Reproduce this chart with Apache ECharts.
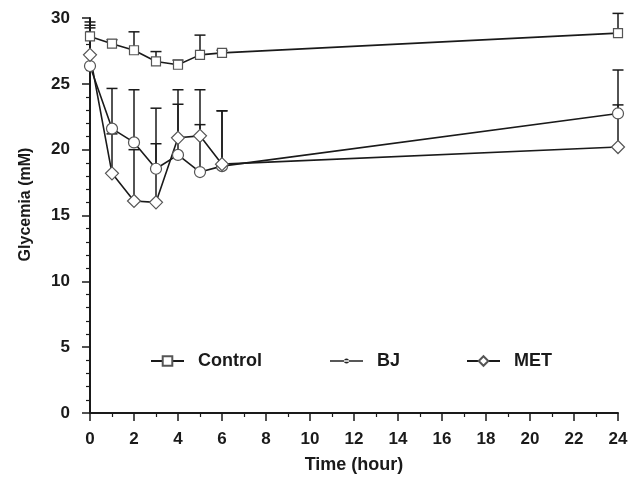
<!DOCTYPE html>
<html>
<head>
<meta charset="utf-8">
<script src="https://cdn.jsdelivr.net/npm/echarts@6/dist/echarts.min.js"></script>
<style>
html,body{margin:0;padding:0;background:#fff;}
#chart{width:644px;height:484px;}
</style>
</head>
<body>
<div id="chart"></div>
<script>
var time = [0, 1, 2, 3, 4, 5, 6, 24];
var control = [28.6, 28.05, 27.55, 26.7, 26.45, 27.2, 27.35, 28.85];
var controlErr = [1.1, 0.3, 1.4, 0.75, 0.35, 1.5, 0.2, 1.5];
var bj = [26.35, 21.6, 20.55, 18.55, 19.6, 18.3, 18.75, 22.75];
var bjErr = [2.9, 3.05, 4.0, 4.6, 3.85, 3.6, 4.2, 3.3];
var met = [27.2, 18.2, 16.1, 16.0, 20.9, 21.05, 18.9, 20.2];
var metErr = [2.25, 3.0, 3.9, 4.45, 3.65, 3.5, 4.05, 3.2];
var xTicks = [0, 2, 4, 6, 8, 10, 12, 14, 16, 18, 20, 22, 24];
var yTicks = [0, 5, 10, 15, 20, 25, 30];

function pairs(vals) { return time.map(function (t, i) { return [t, vals[i]]; }); }
function errData(vals, errs) { return time.map(function (t, i) { return [t, vals[i], vals[i] + errs[i]]; }); }

var font = '"Liberation Sans", Arial, sans-serif';
var ink = '#1a1a1a';

function errSeries(vals, errs) {
  return {
    type: 'custom',
    data: errData(vals, errs),
    z: 1,
    silent: true,
    renderItem: function (params, api) {
      var p0 = api.coord([api.value(0), api.value(1)]);
      var p1 = api.coord([api.value(0), api.value(2)]);
      var hw = 5.5;
      return {
        type: 'group',
        children: [
          { type: 'line', shape: { x1: p0[0], y1: p0[1], x2: p1[0], y2: p1[1] }, style: { stroke: ink, lineWidth: 1.5 } },
          { type: 'line', shape: { x1: p1[0] - hw, y1: p1[1], x2: p1[0] + hw, y2: p1[1] }, style: { stroke: ink, lineWidth: 1.5 } }
        ]
      };
    }
  };
}

function lineSeries(name, vals, symbol, size) {
  return {
    name: name,
    type: 'line',
    data: pairs(vals),
    symbol: symbol,
    symbolSize: size,
    z: 3,
    lineStyle: { color: ink, width: 1.6 },
    itemStyle: { color: '#fff', borderColor: '#555', borderWidth: 1.2 },
    emphasis: { disabled: true }
  };
}

function legendAt(left, item) {
  return {
    left: left,
    top: 347,
    itemWidth: 33,
    itemHeight: 12,
    data: [item],
    textStyle: { fontFamily: font, fontWeight: 'bold', fontSize: 18, color: ink, padding: [0, 0, 0, 9] }
  };
}

var chart = echarts.init(document.getElementById('chart'), null, { renderer: 'canvas' });
chart.setOption({
  animation: false,
  backgroundColor: '#fff',
  grid: { left: 90, right: 26, top: 18, bottom: 71 },
  legend: [
    legendAt(145, 'Control'),
    legendAt(325, { name: 'BJ', icon: 'path://M0,5.3h33v1.4h-33z M14,6a2.5,2.5 0 1,0 5,0a2.5,2.5 0 1,0 -5,0z',
      itemStyle: { color: '#222', borderWidth: 0 } }),
    legendAt(461, 'MET')
  ],
  xAxis: {
    type: 'value',
    min: 0, max: 24, interval: 2,
    name: 'Time (hour)',
    nameLocation: 'middle',
    nameGap: 43,
    nameTextStyle: { fontFamily: font, fontWeight: 'bold', fontSize: 18, color: ink },
    axisLine: { show: true, onZero: false, lineStyle: { color: ink, width: 2 } },
    axisTick: { show: true, length: 8, lineStyle: { color: ink, width: 1.5 } },
    minorTick: { show: true, splitNumber: 2, length: 4, lineStyle: { color: ink, width: 1.2 } },
    axisLabel: { fontFamily: font, fontWeight: 'bold', fontSize: 17, color: ink, margin: 18,
      formatter: function (v) { return xTicks.indexOf(v) >= 0 ? String(v) : ''; } },
    splitLine: { show: false }
  },
  yAxis: {
    type: 'value',
    min: 0, max: 30, interval: 5,
    name: 'Glycemia (mM)',
    nameLocation: 'middle',
    nameGap: 56,
    nameTextStyle: { fontFamily: font, fontWeight: 'bold', fontSize: 16, color: ink, padding: [0, 0, 0, 22] },
    axisLine: { show: true, lineStyle: { color: ink, width: 2 } },
    axisTick: { show: true, length: 8, lineStyle: { color: ink, width: 1.5 } },
    minorTick: { show: true, splitNumber: 5, length: 4, lineStyle: { color: ink, width: 1.2 } },
    axisLabel: { fontFamily: font, fontWeight: 'bold', fontSize: 17, color: ink, margin: 20,
      formatter: function (v) { return yTicks.indexOf(v) >= 0 ? String(v) : ''; } },
    splitLine: { show: false }
  },
  series: [
    errSeries(control, controlErr),
    errSeries(bj, bjErr),
    errSeries(met, metErr),
    lineSeries('Control', control, 'rect', 9),
    lineSeries('BJ', bj, 'circle', 11),
    lineSeries('MET', met, 'diamond', 13)
  ]
});
</script>
</body>
</html>
